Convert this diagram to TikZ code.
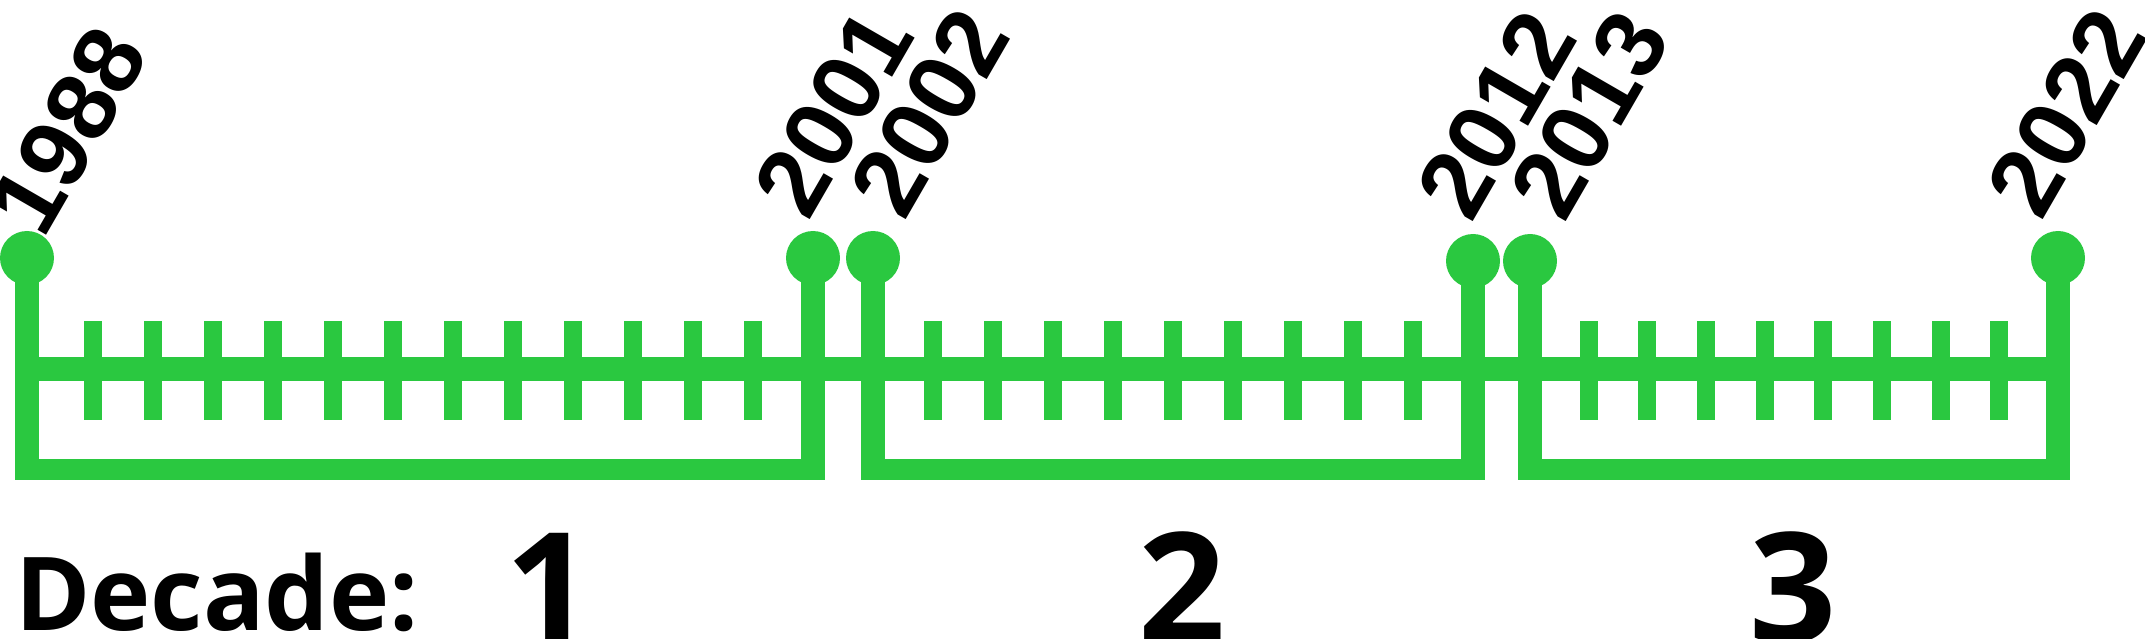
\documentclass[tikz,border=0pt]{standalone}
\usepackage{fontspec}
\setmainfont{Open Sans}
\newfontfamily\yearfont{Liberation Sans}
\definecolor{linegreen}{RGB}{42,200,64}
\tikzset{
  ball/.style={circle, fill=linegreen, inner sep=0pt, minimum size=54pt},
  stem/.style={linegreen, line width=24pt},
  floor/.style={linegreen, line width=21pt},
  yeartick/.style={linegreen, line width=18pt},
  year/.style={anchor=base west, inner sep=0pt, rotate=60,
    font=\yearfont\bfseries\fontsize{97}{97}\selectfont},
  decade/.style={anchor=base, inner sep=0pt,
    font=\bfseries\fontsize{153}{153}\selectfont},
}

\begin{document}
\begin{tikzpicture}[x=1pt, y=-1pt]
  \useasboundingbox (0,0) rectangle (2145,639);

  % main line and the years between
  \draw[stem] (15,369) -- (2070,369);
  \foreach \x in {93,153,...,753} \draw[yeartick] (\x,321) -- (\x,420);
  \foreach \x in {933,993,...,1413} \draw[yeartick] (\x,321) -- (\x,420);
  \foreach \k in {1,...,8} \draw[yeartick] ({1530+58.67*\k},321) -- ++(0,99);

  % marked years
  \node[ball] (b1988) at (27,258) {};
  \node[ball] (b2001) at (813,258) {};
  \node[ball] (b2002) at (873,258) {};
  \node[ball] (b2012) at (1473,261) {};
  \node[ball] (b2013) at (1530,261) {};
  \node[ball] (b2022) at (2058,258) {};

  \node[year] (t1988) at (43,241) {1988};
  \node[year] (t2001) at (808.5,222.5) {2001};
  \node[year] (t2002) at (904.5,222.5) {2002};
  \node[year] (t2012) at (1471,225) {2012};
  \node[year] (t2013) at (1564,225) {2013};
  \node[year] (t2022) at (2041,222.5) {2022};

  % decades
  \foreach \b in {b1988,b2001,b2002,b2012,b2013,b2022}
    \draw[stem] (\b.center) -- (\b.center |- 0,480);
  \draw[floor] (15,469.5) -- (825,469.5);
  \draw[floor] (861,469.5) -- (1485,469.5);
  \draw[floor] (1518,469.5) -- (2070,469.5);

  \node[anchor=base west, inner sep=0pt, font=\bfseries\fontsize{102}{102}\selectfont]
    (dlabel) at (15,630) {Decade:};
  \node[decade] (d1) at (549,642) {1};
  \node[decade] (d2) at (1182,642) {2};
  \node[decade] (d3) at (1793,642) {3};
\end{tikzpicture}
\end{document}
